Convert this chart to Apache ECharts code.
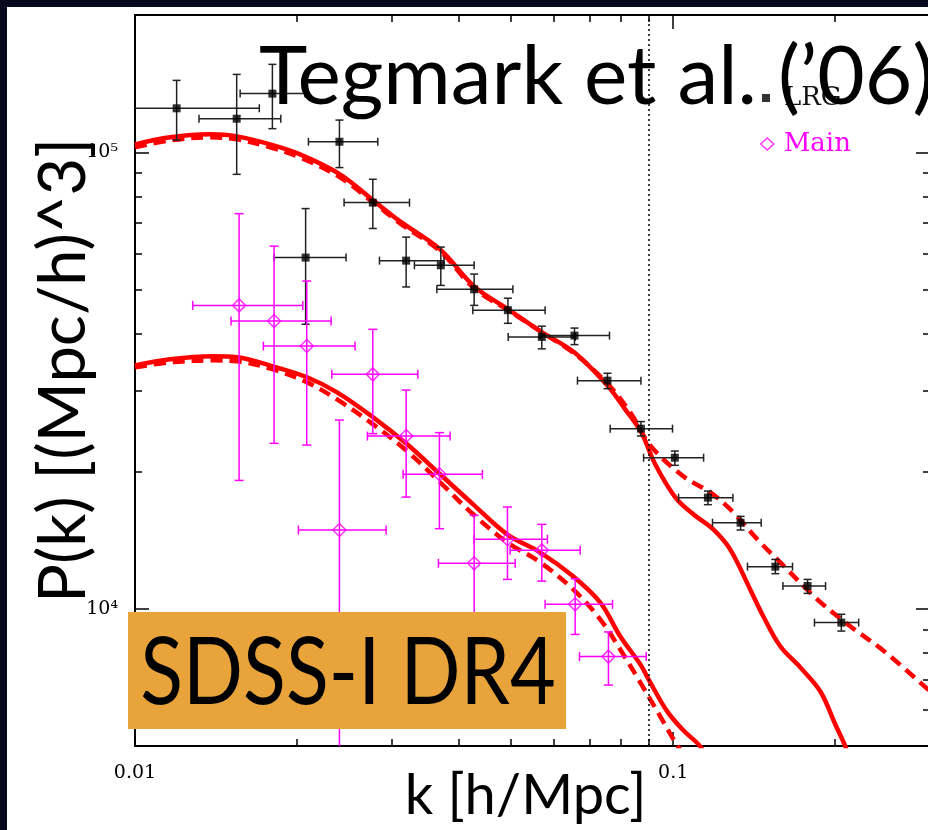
<!DOCTYPE html>
<html>
<head>
<meta charset="utf-8">
<title>SDSS-I DR4 P(k)</title>
<script src="https://cdn.jsdelivr.net/npm/echarts@6/dist/echarts.min.js"></script>
<style>
  html, body { margin: 0; padding: 0; background: #fff; }
  #chart { width: 928px; height: 830px; }
</style>
</head>
<body>
<div id="chart"></div>
<script>
// LRG band powers (Tegmark et al. 2006)
var lrgK   = [0.01195, 0.01545, 0.0180, 0.02075, 0.02398, 0.02766, 0.0319, 0.0370, 0.04267, 0.0493,
              0.0570, 0.06555, 0.07549, 0.0871, 0.1007, 0.1160, 0.1334, 0.1548, 0.1777, 0.2053];
var lrgP   = [124900, 118500, 134500, 58800, 105500, 77600, 57900, 56560, 50100, 45100,
              39400, 39660, 31600, 24800, 21420, 17510, 15430, 12360, 11210, 9320];
var lrgKLo = [0.0095, 0.01315, 0.01568, 0.01813, 0.0210, 0.02446, 0.02846, 0.03305, 0.03638, 0.04243,
              0.04936, 0.05657, 0.06639, 0.07636, 0.0881, 0.1023, 0.1183, 0.1374, 0.1599, 0.1830];
var lrgKHi = [0.01702, 0.01866, 0.0207, 0.02467, 0.02826, 0.03236, 0.03752, 0.04267, 0.05036, 0.05781,
              0.06574, 0.07614, 0.0871, 0.0997, 0.1139, 0.1291, 0.1457, 0.1666, 0.1919, 0.2211];
var lrgPLo = [106400, 89500, 112700, 42000, 92600, 68100, 50700, 51100, 46200, 42200,
              37100, 37900, 30340, 23900, 20610, 16900, 14870, 11930, 10800, 8930];
var lrgPHi = [143800, 148200, 155900, 75300, 117700, 87300, 65200, 62000, 54100, 47900,
              41600, 41200, 32800, 25700, 22150, 18100, 15930, 12820, 11590, 9720];

// Main galaxy sample band powers
var mainK   = [0.01561, 0.01813, 0.02085, 0.02398, 0.02766, 0.0319, 0.03678, 0.04267, 0.04921, 0.0570, 0.06574, 0.0758];
var mainP   = [46200, 42700, 37630, 14870, 32620, 23890, 19700, 12570, 14190, 13420, 10220, 7850];
var mainKLo = [0.0128, 0.01508, 0.01732, 0.02012, 0.02321, 0.02703, 0.03149, 0.03662, 0.04267, 0.04977, 0.05781, 0.06696];
var mainKHi = [0.0205, 0.02314, 0.02564, 0.02928, 0.03354, 0.0385, 0.04421, 0.05086, 0.05838, 0.06717, 0.07714, 0.0891];
var mainPLo = [19100, 23030, 22830, 3000, 24180, 17560, 14970, 7740, 11590, 11490, 8780, 6800];
var mainPHi = [73400, 62300, 52240, 25900, 40940, 30140, 24310, 16010, 16700, 15300, 11630, 8890];

// model curves: solid = linear theory, dashed = with nonlinear corrections
var lrgSolidK = [0.01, 0.01162, 0.01379, 0.01547, 0.01782, 0.02026, 0.02404, 0.0277, 0.03109, 0.03689,
                 0.04267, 0.04936, 0.05708, 0.06546, 0.07539, 0.08143, 0.08721, 0.09258, 0.1009, 0.109,
                 0.1187, 0.1276, 0.139, 0.147, 0.1581, 0.1722, 0.1876, 0.2, 0.2088, 0.2133];
var lrgSolidP = [104100, 107900, 109500, 108400, 104100, 99000, 89500, 78500, 70600, 61300,
                 50850, 45300, 40310, 36450, 30860, 27340, 24350, 20720, 17540, 16100,
                 14920, 13490, 11020, 9620, 8270, 7435, 6590, 5580, 4993, 4560];
var lrgDashK  = [0.01, 0.01162, 0.01379, 0.01547, 0.01782, 0.02026, 0.02404, 0.0277, 0.03109, 0.03689,
                 0.04267, 0.04936, 0.05708, 0.06546, 0.07539, 0.0832, 0.09063, 0.1044, 0.1172, 0.1293,
                 0.1433, 0.1601, 0.1852, 0.2133, 0.2468, 0.3];
var lrgDashP  = [102600, 106200, 107900, 106800, 102600, 97500, 88150, 77700, 69900, 60700,
                 50350, 45060, 40310, 36260, 31170, 26930, 22800, 19500, 17980, 16260,
                 14190, 12440, 10480, 9150, 8060, 6590];
var mainSolidK = [0.01, 0.01162, 0.01396, 0.01547, 0.01805, 0.02088, 0.02374, 0.0277, 0.03204, 0.03689,
                  0.04249, 0.04914, 0.05657, 0.06518, 0.07317, 0.07969, 0.08684, 0.09063, 0.09746, 0.1044,
                  0.1122, 0.1172];
var mainSolidP = [34130, 35190, 35720, 35540, 33960, 32140, 29790, 26260, 22920, 19700,
                  16930, 14550, 13290, 11770, 10320, 8700, 7550, 6895, 5955, 5412,
                  4993, 4560];
var mainDashK  = [0.01, 0.01162, 0.01396, 0.01547, 0.01805, 0.02088, 0.02374, 0.0277, 0.03204, 0.03689,
                  0.04249, 0.04914, 0.05657, 0.06518, 0.07317, 0.07969, 0.08684, 0.09459, 0.1017, 0.1075];
var mainDashP  = [33790, 34660, 35010, 34840, 33450, 31330, 28740, 25340, 22130, 18920,
                  16100, 13980, 12640, 11020, 9475, 8145, 6895, 5808, 5017, 4560];

var kCut = 0.09;   // dotted vertical line

// ticks
var xMajor = [0.01, 0.1];
var xMajorLabels = ['0.01', '0.1'];
var xMinor = [0.02, 0.03, 0.04, 0.05, 0.06, 0.07, 0.08, 0.09, 0.2];
var yMajor = [10000, 100000];
var yMajorLabels = ['10⁴', '10⁵'];
var yMinor = [6000, 7000, 8000, 9000, 20000, 30000, 40000, 50000, 60000, 70000, 80000, 90000];

function pairs(a, b) {
  return a.map(function (v, i) { return [v, b[i]]; });
}
function rows(k, p, kl, kh, pl, ph) {
  return k.map(function (v, i) { return [v, p[i], kl[i], kh[i], pl[i], ph[i]]; });
}
function pickLabel(vals, labels) {
  return function (v) {
    for (var i = 0; i < vals.length; i++) {
      if (Math.abs(Math.log10(v) - Math.log10(vals[i])) < 1e-6) return labels[i];
    }
    return '';
  };
}

// error bars with caps
function errorBars(color, cap, width) {
  return function (params, api) {
    var k = api.value(0), p = api.value(1);
    var l = api.coord([api.value(2), p]);
    var r = api.coord([api.value(3), p]);
    var lo = api.coord([k, api.value(4)]);
    var hi = api.coord([k, api.value(5)]);
    function seg(x1, y1, x2, y2) {
      return { type: 'line', shape: { x1: x1, y1: y1, x2: x2, y2: y2 },
               style: { stroke: color, lineWidth: width } };
    }
    return { type: 'group', children: [
      seg(l[0], l[1], r[0], r[1]),
      seg(l[0], l[1] - cap, l[0], l[1] + cap),
      seg(r[0], r[1] - cap, r[0], r[1] + cap),
      seg(lo[0], lo[1], hi[0], hi[1]),
      seg(lo[0] - cap, lo[1], lo[0] + cap, lo[1]),
      seg(hi[0] - cap, hi[1], hi[0] + cap, hi[1])
    ]};
  };
}

var black = '#000';
var magenta = '#ff00ff';
var red = '#ff0000';
var tickFont = { fontFamily: 'DejaVu Serif', fontSize: 19, color: black };

function xAxisOf(pos, ticks, len, main) {
  return {
    type: 'log', min: 0.01, max: 0.3, position: pos,
    axisLine: { show: main, onZero: false, lineStyle: { color: black, width: 2 } },
    axisTick: { show: true, inside: true, length: len, customValues: ticks,
                lineStyle: { color: black, width: 1.5 } },
    axisLabel: { show: false },
    splitLine: { show: false }
  };
}
function yAxisOf(pos, ticks, len, main) {
  return {
    type: 'log', min: 5000, max: 200000, position: pos,
    axisLine: { show: main, onZero: false, lineStyle: { color: black, width: 2 } },
    axisTick: { show: true, inside: true, length: len, customValues: ticks,
                lineStyle: { color: black, width: 1.5 } },
    axisLabel: { show: false },
    splitLine: { show: false }
  };
}

var xAxes = [
  xAxisOf('bottom', xMajor, 14, true),
  xAxisOf('bottom', xMinor, 7, false),
  xAxisOf('top', xMajor, 14, true),
  xAxisOf('top', xMinor, 7, false)
];
xAxes[0].axisLabel = Object.assign({ show: true, customValues: xMajor, margin: 18,
                                     formatter: pickLabel(xMajor, xMajorLabels) }, tickFont);
xAxes[0].name = 'k [h/Mpc]';
xAxes[0].nameLocation = 'middle';
xAxes[0].nameGap = 22;
xAxes[0].nameMoveOverlap = false;
xAxes[0].nameTextStyle = { fontFamily: 'Lato', fontSize: 56, color: black, padding: [0, 14, 0, 0] };

var yAxes = [
  yAxisOf('left', yMajor, 14, true),
  yAxisOf('left', yMinor, 7, false),
  yAxisOf('right', yMajor, 14, true),
  yAxisOf('right', yMinor, 7, false)
];
yAxes[0].axisLabel = Object.assign({ show: true, customValues: yMajor, margin: 17,
                                     padding: [10, 0, 0, 0],
                                     formatter: pickLabel(yMajor, yMajorLabels) }, tickFont);
yAxes[0].name = 'P(k) [(Mpc/h)^3]';
yAxes[0].nameLocation = 'middle';
yAxes[0].nameGap = 38;
yAxes[0].nameMoveOverlap = false;
yAxes[0].nameTextStyle = { fontFamily: 'Lato', fontSize: 65, color: black, padding: [0, 0, 0, 20] };

function curve(name, k, p, dashed) {
  return {
    name: name, type: 'line', data: pairs(k, p), showSymbol: false, smooth: 0.35,
    clip: true, silent: true, z: 2,
    lineStyle: { color: red, width: 4.5, type: dashed ? [12, 7] : 'solid' }
  };
}

var series = [
  curve('LRG linear', lrgSolidK, lrgSolidP, false),
  curve('LRG nonlinear', lrgDashK, lrgDashP, true),
  curve('Main linear', mainSolidK, mainSolidP, false),
  curve('Main nonlinear', mainDashK, mainDashP, true),
  {
    name: 'LRG bars', type: 'custom', clip: true, z: 3,
    data: rows(lrgK, lrgP, lrgKLo, lrgKHi, lrgPLo, lrgPHi),
    encode: { x: 0, y: 1 },
    renderItem: errorBars('#222', 4, 1.5)
  },
  {
    name: 'Main bars', type: 'custom', clip: true, z: 3,
    data: rows(mainK, mainP, mainKLo, mainKHi, mainPLo, mainPHi),
    encode: { x: 0, y: 1 },
    renderItem: errorBars(magenta, 4.5, 1.5)
  },
  {
    name: 'LRG', type: 'scatter', data: pairs(lrgK, lrgP), symbol: 'rect', symbolSize: 8,
    itemStyle: { color: black }, z: 4, clip: true
  },
  {
    name: 'Main', type: 'scatter', data: pairs(mainK, mainP), symbol: 'diamond', symbolSize: 13,
    itemStyle: { color: 'rgba(0,0,0,0)', borderColor: magenta, borderWidth: 1.5 }, z: 4, clip: true
  }
];
series[0].markLine = {
  silent: true, symbol: 'none', label: { show: false },
  lineStyle: { color: black, width: 1.5, type: [2, 3] },
  data: [{ xAxis: kCut }]
};

var chart = echarts.init(document.getElementById('chart'), null, { renderer: 'canvas' });
chart.setOption({
  backgroundColor: '#fff',
  animation: false,
  grid: { left: 135, top: 15, width: 795, height: 731, containLabel: false, outerBoundsMode: 'none' },
  title: {
    text: 'Tegmark et al. (’06)', left: 259, top: 37, padding: 0,
    textStyle: { fontFamily: 'Lato', fontSize: 82, fontWeight: 'normal', color: black }
  },
  legend: [
    {
      data: [{ name: 'LRG', icon: 'rect' }], left: 762, top: 85, padding: 0,
      itemWidth: 8, itemHeight: 8, selectedMode: false,
      textStyle: { fontFamily: 'DejaVu Serif', fontSize: 26, color: '#111', padding: [0, 0, 0, 9] }
    },
    {
      data: [{ name: 'Main', icon: 'diamond',
               itemStyle: { color: '#fff', borderColor: magenta, borderWidth: 1.5 } }],
      left: 760, top: 131, padding: 0, itemWidth: 13, itemHeight: 12, selectedMode: false,
      textStyle: { fontFamily: 'DejaVu Serif', fontSize: 26, color: magenta, padding: [0, 0, 0, 5] }
    }
  ],
  xAxis: xAxes,
  yAxis: yAxes,
  series: series,
  graphic: [
    { type: 'rect', shape: { x: 128, y: 612, width: 438, height: 117 },
      style: { fill: '#e8a33b' }, z: 100 },
    { type: 'text', x: 348, y: 674, scaleX: 0.84, z: 101,
      style: { text: 'SDSS-I DR4', font: '94px Lato', fill: black,
               textAlign: 'center', textVerticalAlign: 'middle' } },
    { type: 'rect', shape: { x: 0, y: 0, width: 928, height: 7 }, style: { fill: '#050a1e' }, z: 110 },
    { type: 'rect', shape: { x: 0, y: 0, width: 7, height: 830 }, style: { fill: '#050a1e' }, z: 110 }
  ]
});
</script>
</body>
</html>
